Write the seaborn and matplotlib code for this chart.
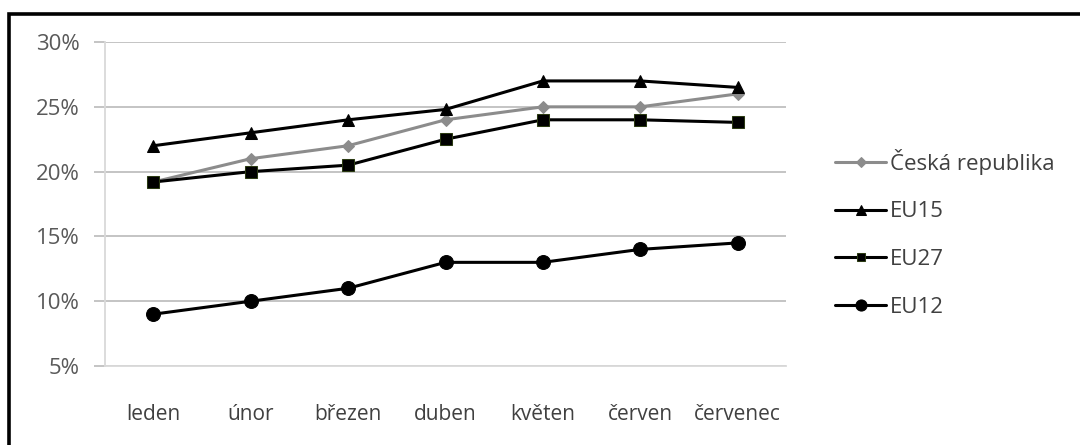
import matplotlib
matplotlib.use("Agg")
import matplotlib.pyplot as plt
import matplotlib.ticker as mticker
from matplotlib.patches import Rectangle
import pandas as pd
import seaborn as sns

# data (shares, %)
months = ['leden', 'únor', 'březen', 'duben', 'květen', 'červen', 'červenec']
cz = [19.2, 21.0, 22.0, 24.0, 25.0, 25.0, 26.0]
eu15 = [22.0, 23.0, 24.0, 24.8, 27.0, 27.0, 26.5]
eu27 = [19.2, 20.0, 20.5, 22.5, 24.0, 24.0, 23.8]
eu12 = [9.0, 10.0, 11.0, 13.0, 13.0, 14.0, 14.5]
y_ticks = [5, 10, 15, 20, 25, 30]

sns.set_style("white")
plt.rcParams['font.family'] = ['Open Sans', 'DejaVu Sans']

df = pd.DataFrame({'x': range(len(months)), 'Česká republika': cz,
                   'EU15': eu15, 'EU27': eu27, 'EU12': eu12})

fig = plt.figure(figsize=(10.8, 4.45), dpi=100)
ax = fig.add_axes([0.097, 0.1775, 0.631, 0.728])

styles = [
    ('Česká republika', '#8c8c8c', 'D', 6, '#8c8c8c'),
    ('EU15', 'black', '^', 9, 'black'),
    ('EU27', 'black', 's', 8, '#2b3a12'),
    ('EU12', 'black', 'o', 10, 'black'),
]
for name, col, mk, ms, mec in styles:
    sns.lineplot(data=df, x='x', y=name, ax=ax, color=col, marker=mk,
                 markersize=ms, markeredgecolor=mec, linewidth=2.2, label=name)

grid_col = '#bfbfbf'
ax.set_xlim(-0.5, 6.5)
ax.set_ylim(5, 30)
ax.yaxis.set_major_locator(mticker.FixedLocator(y_ticks))
ax.yaxis.set_major_formatter(mticker.FuncFormatter(lambda v, p: f'{v:.0f}%'))
ax.set_xticks(range(len(months)))
ax.set_xticklabels(months)
ax.xaxis.set_minor_locator(mticker.FixedLocator([-0.5 + i for i in range(8)]))
ax.grid(axis='y', color=grid_col, linewidth=1.3)
ax.set_axisbelow(True)
for s in ['top', 'right']:
    ax.spines[s].set_visible(False)
for s in ['left', 'bottom']:
    ax.spines[s].set_color('#d9d9d9')
    ax.spines[s].set_linewidth(1.3)
ax.tick_params(axis='x', which='major', length=0, pad=27, labelsize=15,
               labelcolor='#404040')
ax.tick_params(axis='x', which='minor', length=8, width=1.3, color='#d9d9d9',
               direction='out')
ax.tick_params(axis='y', which='major', length=8, width=1.3, color=grid_col,
               pad=10, labelsize=16, labelcolor='#595959', left=True)
ax.set_xlabel('')
ax.set_ylabel('')

leg = ax.legend(loc='center left', bbox_to_anchor=(1.072, 0.41), frameon=False,
                fontsize=16, handlelength=2.3, handletextpad=0.15,
                labelspacing=1.2, labelcolor='#404040', borderaxespad=0,
                borderpad=0, markerscale=0.8)

# outer frame of the picture
fig.patches.append(Rectangle((0.0085, -0.2), 1.2, 1.169, transform=fig.transFigure,
                             fill=False, edgecolor='black', linewidth=2.6))

fig.savefig('out.png', dpi=100)
